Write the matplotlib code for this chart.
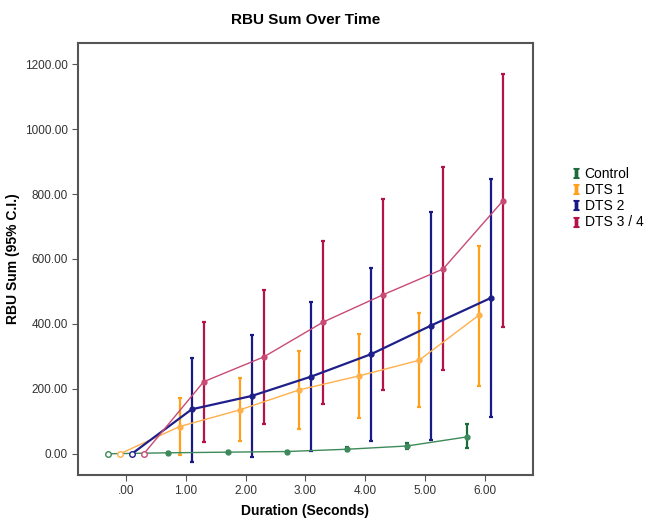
import matplotlib.pyplot as plt
from matplotlib.lines import Line2D
import numpy as np

plt.rcParams['font.family'] = ['Liberation Sans', 'DejaVu Sans']
plt.rcParams['mathtext.fontset'] = 'stix'  # serif "I" for legend markers

# duration categories (seconds) and per-group x offsets
durations = [0, 1, 2, 3, 4, 5, 6]
groups = ['Control', 'DTS 1', 'DTS 2', 'DTS 3 / 4']
offsets = [-0.3, -0.1, 0.1, 0.3]

# means and 95% CI bounds
control_mean = [0, 3, 5, 7, 14, 24, 52]
control_low = [0, 1, 2, 4, 8, 16, 18]
control_high = [0, 5, 8, 10, 20, 32, 92]

dts1_mean = [0, 84, 135, 197, 240, 288, 427]
dts1_low = [0, -5, 38, 77, 110, 143, 210]
dts1_high = [0, 173, 232, 317, 370, 433, 641]

dts2_mean = [0, 137, 178, 238, 307, 395, 480]
dts2_low = [0, -24, -10, 9, 38, 43, 112]
dts2_high = [0, 296, 367, 467, 573, 746, 847]

dts34_mean = [0, 222, 298, 406, 490, 569, 779]
dts34_low = [0, 37, 92, 153, 197, 258, 392]
dts34_high = [0, 407, 504, 655, 785, 882, 1169]

means = [control_mean, dts1_mean, dts2_mean, dts34_mean]
lows = [control_low, dts1_low, dts2_low, dts34_low]
highs = [control_high, dts1_high, dts2_high, dts34_high]

line_colors = ['#3d8a5a', '#ffb04a', '#1f1f8c', '#c94a75']
bar_colors = ['#1d6b3a', '#ff9f1c', '#1a1a85', '#b3124a']
line_widths = [1.0, 1.0, 1.6, 1.0]

fig = plt.figure(figsize=(6.45, 5.19), dpi=100)
ax = fig.add_axes([0.121, 0.085, 0.705, 0.832])

for i in range(len(groups)):
    x = np.array(durations) + offsets[i]
    m = np.array(means[i])
    err = [m - np.array(lows[i]), np.array(highs[i]) - m]
    ax.errorbar(x[1:], m[1:], yerr=[err[0][1:], err[1][1:]], fmt='none',
                ecolor=bar_colors[i], elinewidth=1.6, capsize=1.5,
                capthick=1.6, zorder=2)
    ax.plot(x, m, color=line_colors[i], lw=line_widths[i], zorder=3)
    ax.plot(x[1:], m[1:], 'o', color=line_colors[i], ms=3.5, zorder=4)
    # zero-duration point drawn hollow
    ax.plot(x[0], m[0], 'o', mfc='white', mec=line_colors[i], mew=1.0,
            ms=4, zorder=4)

ax.set_xlim(-0.8, 6.8)
ax.set_ylim(-65, 1265)
ax.set_xticks(durations)
ax.set_xticklabels(['.00', '1.00', '2.00', '3.00', '4.00', '5.00', '6.00'])
ax.set_yticks(np.arange(0, 1201, 200))
ax.set_yticklabels(['%.2f' % v for v in np.arange(0, 1201, 200)])
ax.tick_params(labelsize=8.5, colors='#555555', length=4, labelcolor='#333333')
for s in ax.spines.values():
    s.set_color('#555555')
    s.set_linewidth(1.5)

ax.set_title('RBU Sum Over Time', fontsize=11, fontweight='bold', pad=14)
ax.set_xlabel('Duration (Seconds)', fontsize=10, fontweight='bold')
ax.xaxis.set_label_coords(0.5, -0.068)
ax.set_ylabel('RBU Sum (95% C.I.)', fontsize=10, fontweight='bold')
ax.yaxis.set_label_coords(-0.127, 0.5)

handles = [Line2D([], [], marker='$\\mathbf{I}$', linestyle='none',
                  color=c, markersize=7) for c in bar_colors]
fig.legend(handles, groups, loc='center left', bbox_to_anchor=(0.874, 0.618),
           frameon=False, fontsize=10, handletextpad=0.1, labelspacing=0.15,
           handlelength=1.0, borderaxespad=0)

fig.savefig('out.png', dpi=100)
